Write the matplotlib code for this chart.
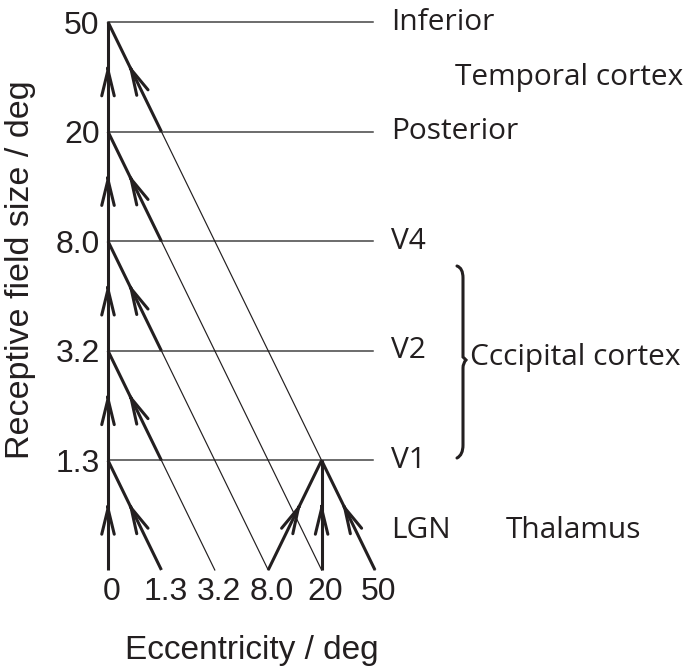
import matplotlib
matplotlib.use("Agg")
import matplotlib.pyplot as plt
from matplotlib.path import Path
from matplotlib.patches import PathPatch
from matplotlib.transforms import ScaledTranslation

# ---- data ----
ecc_labels = ["0", "1.3", "3.2", "8.0", "20", "50"]          # eccentricity ticks (x)
rf_labels = ["", "1.3", "3.2", "8.0", "20", "50"]            # receptive field size ticks (y)
area_labels = ["LGN", "V1", "V2", "V4", "Posterior", "Inferior"]
convergence_sources = [3, 4, 5]   # eccentricity indices feeding V1 at ecc index 4
convergence_target = (4, 1)       # (ecc index, level index)

W, H, DPI = 695, 669, 100
INK = "#231f20"
GRAY = "#444444"
fig = plt.figure(figsize=(W / DPI, H / DPI), dpi=DPI)

# axes placed so that data unit grid matches reference pixels
x0px, x5px = 108, 375
y0px, y5px = 570, 22
ax = fig.add_axes([x0px / W, 1 - y0px / H, (x5px - x0px) / W, (y0px - y5px) / H])
ax.set_xlim(0, 5)
ax.set_ylim(0, 5)
for s in ax.spines.values():
    s.set_visible(False)

n = len(ecc_labels)
thick, thin, hline = 2.2, 0.85, 1.1

# horizontal level lines
for lvl in range(1, n):
    ax.plot([0, 4.96], [lvl, lvl], color=GRAY, lw=hline, clip_on=False, zorder=1)

def arrow(start, end, frac=0.62):
    tip = (start[0] + (end[0] - start[0]) * frac, start[1] + (end[1] - start[1]) * frac)
    tail = (start[0] + (end[0] - start[0]) * (frac - 0.05), start[1] + (end[1] - start[1]) * (frac - 0.05))
    ax.annotate("", xy=tip, xytext=tail,
                arrowprops=dict(arrowstyle="->,head_length=1.85,head_width=0.45",
                                color=INK, lw=thick, shrinkA=0, shrinkB=0,
                                mutation_scale=10), zorder=4, annotation_clip=False)

# vertical line at eccentricity 0
ax.plot([0, 0], [0, n - 1], color=INK, lw=thick, clip_on=False, zorder=3, solid_capstyle="butt")
for lvl in range(n - 1):
    arrow((0, lvl), (0, lvl + 1))

# diagonals: from (i, 0) up to (0, i); thick in top segment, thin below
for i in range(1, n):
    ax.plot([0, 1], [i, i - 1], color=INK, lw=thick, clip_on=False, zorder=3, solid_capstyle="butt")
    arrow((1, i - 1), (0, i))
    if i > 1:
        ax.plot([1, i], [i - 1, 0], color=INK, lw=thin, clip_on=False, zorder=2)

# convergence onto V1 at eccentricity 20
tx, ty = convergence_target
for sx in convergence_sources:
    ax.plot([sx, tx], [0, ty], color=INK, lw=thick, clip_on=False, zorder=3, solid_capstyle="butt")
    arrow((sx, 0), (tx, ty))

# ticks
TICK_FS = 23
ax.set_xticks(range(n))
ax.set_xticklabels(ecc_labels, family="Liberation Sans", fontsize=TICK_FS, color=INK)
ax.set_yticks(range(n))
ax.set_yticklabels(rf_labels, family="Liberation Sans", fontsize=TICK_FS, color=INK)
ax.tick_params(length=0)
ax.tick_params(axis="x", pad=5)
ax.tick_params(axis="y", pad=6)
shift = ScaledTranslation(4 / DPI, 0, fig.dpi_scale_trans)
for lab in ax.get_xticklabels():
    lab.set_transform(lab.get_transform() + shift)

# axis titles
fig.text(252 / W, 1 - 650 / H, "Eccentricity / deg", family="Liberation Sans",
         fontsize=24, color=INK, ha="center", va="center")
fig.text(21 / W, 1 - 270 / H, "Receptive field size / deg", family="Liberation Sans",
         fontsize=24.5, color=INK, ha="center", va="center", rotation=90)

# area labels
LAB_FS = 21.5
lab_x = 5.3
for lvl, name in enumerate(area_labels):
    yy = lvl if lvl > 0 else 0.36
    ax.text(lab_x, yy, name, family="Open Sans", fontsize=LAB_FS, color=INK,
            ha="left", va="center", clip_on=False)

# overlay for region labels and brace (pixel coordinates)
ov = fig.add_axes([0, 0, 1, 1], facecolor="none")
ov.set_xlim(0, W)
ov.set_ylim(H, 0)
ov.axis("off")
ov.text(455, 78, "Temporal cortex", family="Open Sans", fontsize=LAB_FS, color=INK, ha="left", va="center")
ov.text(506, 531, "Thalamus", family="Open Sans", fontsize=LAB_FS, color=INK, ha="left", va="center")
ov.text(470, 357, "Cccipital cortex", family="Open Sans", fontsize=LAB_FS, color=INK, ha="left", va="center")

verts = [(457, 266), (463, 268), (463, 278), (463, 300),
         (463, 345), (463, 345), (463, 352), (463, 357), (466, 360),
         (463, 363), (463, 368), (463, 368), (463, 375),
         (463, 420), (463, 445), (463, 455), (457, 458)]
codes = [Path.MOVETO, Path.CURVE3, Path.CURVE3, Path.LINETO,
         Path.LINETO, Path.LINETO, Path.CURVE3, Path.CURVE3, Path.LINETO,
         Path.CURVE3, Path.CURVE3, Path.LINETO, Path.LINETO,
         Path.LINETO, Path.LINETO, Path.CURVE3, Path.CURVE3]
ov.add_patch(PathPatch(Path(verts, codes), fill=False, lw=2.2, color=INK, capstyle="round"))

fig.savefig("out.png", dpi=DPI)
